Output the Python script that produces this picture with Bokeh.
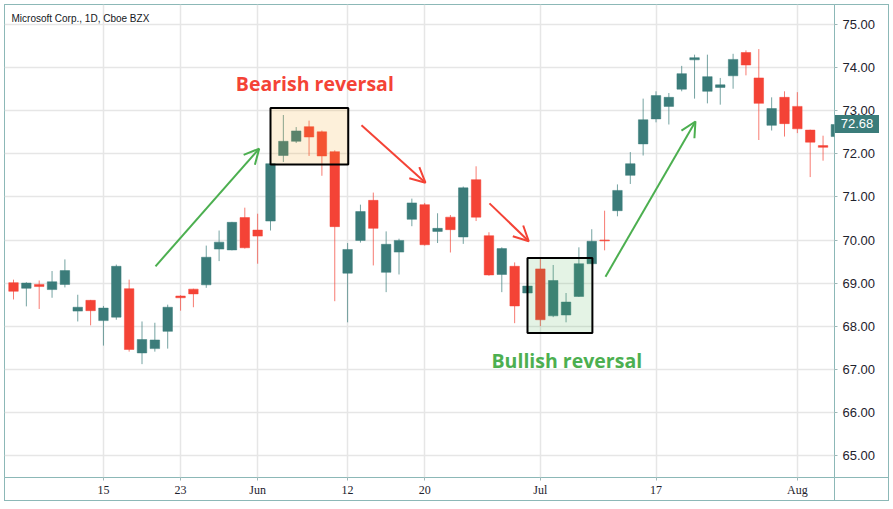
import pandas as pd
from bokeh.plotting import figure
from bokeh.models import (ColumnDataSource, Range1d, FixedTicker, PrintfTickFormatter,
                          BoxAnnotation, Arrow, OpenHead, Label, Div)
from bokeh.embed import file_html
from bokeh.resources import INLINE

# ---------------- data ----------------
opens = [69.01, 68.88, 68.97, 68.85, 68.97, 68.35, 68.60, 68.13, 68.21, 68.87,
         67.38, 67.48, 67.88, 68.70, 68.86, 68.96, 69.79, 69.77, 70.52, 70.23,
         70.44, 71.96, 72.29, 72.63, 72.51, 72.05, 69.23, 69.99, 70.92, 69.25,
         69.72, 70.48, 70.82, 70.20, 70.53, 70.07, 71.40, 70.10, 69.20, 69.39,
         68.77, 69.33, 68.24, 68.26, 68.69, 69.45, 70.00, 70.68, 71.50, 72.23,
         72.81, 73.10, 73.50, 74.18, 73.45, 73.54, 73.81, 74.35, 73.76, 72.66,
         73.31, 73.10, 72.55, 72.19, 72.40]
highs = [69.08, 69.02, 69.06, 69.28, 69.55, 68.73, 68.61, 68.47, 69.43, 69.08,
         68.11, 68.08, 68.50, 68.72, 68.87, 69.87, 70.22, 70.42, 70.75, 70.61,
         71.78, 72.90, 72.62, 72.77, 72.54, 72.08, 69.93, 70.82, 71.10, 70.20,
         70.03, 70.96, 70.86, 70.62, 70.58, 71.24, 71.71, 70.18, 69.83, 69.48,
         68.94, 69.56, 69.42, 68.77, 69.83, 70.25, 70.68, 71.29, 72.04, 73.28,
         73.45, 73.41, 74.04, 74.30, 74.30, 73.76, 74.32, 74.40, 74.43, 73.31,
         73.45, 73.43, 72.56, 72.42, 72.75]
lows = [68.62, 68.46, 68.40, 68.66, 68.90, 68.11, 68.02, 67.55, 68.15, 67.41,
        67.12, 67.41, 67.48, 68.36, 68.44, 68.89, 69.51, 69.76, 69.80, 69.45,
        70.22, 71.81, 72.25, 71.95, 71.49, 68.58, 68.09, 69.94, 69.41, 68.79,
        69.20, 70.32, 69.87, 69.93, 69.71, 69.91, 70.44, 69.17, 68.79, 68.07,
        68.76, 68.00, 68.21, 68.09, 68.68, 69.44, 69.76, 70.55, 71.30, 71.96,
        72.73, 72.68, 73.45, 73.28, 73.17, 73.14, 73.51, 73.82, 72.32, 72.54,
        72.40, 72.48, 71.46, 71.84, 72.30]
closes = [68.81, 69.00, 68.92, 69.03, 69.29, 68.44, 68.36, 68.42, 69.39, 67.46,
          67.69, 67.68, 68.44, 68.66, 68.75, 69.60, 69.95, 70.41, 69.82, 70.09,
          71.77, 72.29, 72.53, 72.39, 71.95, 70.31, 69.78, 70.66, 70.27, 69.90,
          69.99, 70.86, 69.89, 70.27, 70.24, 71.21, 70.53, 69.19, 69.80, 68.47,
          68.93, 68.15, 69.06, 68.56, 69.45, 69.97, 69.98, 71.15, 71.77, 72.79,
          73.35, 73.31, 73.86, 74.23, 73.79, 73.60, 74.19, 74.06, 73.17, 73.05,
          72.70, 72.58, 72.27, 72.15, 72.68]

holidays = ["2017-05-29", "2017-07-04"]
dates = [d for d in pd.bdate_range("2017-05-04", "2017-08-04")
         if d.strftime("%Y-%m-%d") not in holidays]

tick_dates = ["2017-05-15", "2017-05-23", "2017-06-01", "2017-06-12",
              "2017-06-20", "2017-07-03", "2017-07-17", "2017-08-01"]
tick_labels = ["15", "23", "Jun", "12", "20", "Jul", "17", "Aug"]
price_ticks = [65, 66, 67, 68, 69, 70, 71, 72, 73, 74, 75]
last_price = 72.68

# ---------------- styling ----------------
UP = "#3b7c7a"
DOWN = "#f44336"
GREEN = "#4caf50"
FRAME = "#8cb8b7"
TXT = "#1e222d"

idx = list(range(len(dates)))
date_str = [d.strftime("%Y-%m-%d") for d in dates]
tick_idx = [date_str.index(t) for t in tick_dates]

colors = [UP if c >= o else DOWN for o, c in zip(opens, closes)]
src = ColumnDataSource(dict(
    x=idx, open=opens, high=highs, low=lows, close=closes,
    top=[max(o, c) for o, c in zip(opens, closes)],
    bottom=[min(o, c) for o, c in zip(opens, closes)],
    color=colors,
))

px_per_bar = 12.85
frame_left, frame_right = 4, 834
x0 = -(13 - frame_left) / px_per_bar
x1 = x0 + (frame_right - frame_left) / px_per_bar
ppu = 43.1
y_top = 75 + (24 - 4) / ppu
y_bot = 75 - (477 - 24) / ppu
last_y = 24 + (75 - last_price) * ppu  # pixel row of the last price

g = f"linear-gradient({FRAME},{FRAME})"
p = figure(width=893, height=509, output_backend="svg", toolbar_location=None,
           x_range=Range1d(x0, x1), y_range=Range1d(y_bot, y_top),
           y_axis_location="right",
           min_border_left=4, min_border_top=4, min_border_right=59, min_border_bottom=32)
p.border_fill_color = None
p.background_fill_color = "white"
p.outline_line_color = FRAME
p.outline_line_width = 1
p.styles = {
    "background-color": "white",
    "background-image": ", ".join([g] * 6),
    "background-size": "885px 1px, 885px 1px, 1px 497px, 1px 497px, 1px 497px, 885px 1px",
    "background-position": "4px 4px, 4px 500px, 4px 4px, 888px 4px, 834px 4px, 4px 477px",
    "background-repeat": "no-repeat",
}

# grid
p.xgrid.ticker = FixedTicker(ticks=tick_idx)
p.ygrid.ticker = FixedTicker(ticks=price_ticks)
p.xgrid.grid_line_color = "#e6e6e6"
p.ygrid.grid_line_color = "#e6e6e6"
p.xgrid.grid_line_width = 1.5
p.ygrid.grid_line_width = 1.5

# axes
xa = p.xaxis[0]
xa.ticker = FixedTicker(ticks=tick_idx)
xa.major_label_overrides = {i: l for i, l in zip(tick_idx, tick_labels)}
ya = p.yaxis[0]
ya.ticker = FixedTicker(ticks=price_ticks)
ya.formatter = PrintfTickFormatter(format="%.2f")
for ax in (xa, ya):
    ax.axis_line_color = None
    ax.minor_tick_line_color = None
    ax.major_tick_line_color = "#9fb8b8"
    ax.major_tick_in = 0
    ax.major_tick_out = 3
    ax.major_label_text_color = TXT
xa.major_label_text_font = "Liberation Sans Narrow"
xa.major_label_text_font_size = "12px"
xa.major_label_standoff = 2
ya.major_label_text_font = "Liberation Sans"
ya.major_label_text_font_size = "13px"
ya.major_label_standoff = 5

# candles
p.segment(x0="x", y0="low", x1="x", y1="high", source=src, line_color="color",
          line_alpha=0.7, line_width=1)
p.vbar(x="x", top="top", bottom="bottom", width=0.74, source=src,
       fill_color="color", line_color="color", line_width=0.5)

# reversal boxes
p.add_layout(BoxAnnotation(left=20.0, right=26.05, bottom=71.75, top=73.06,
                           fill_color="#f5a623", fill_alpha=0.17,
                           line_color="black", line_width=2, line_alpha=1))
p.add_layout(BoxAnnotation(left=40.0, right=45.05, bottom=67.84, top=69.58,
                           fill_color=GREEN, fill_alpha=0.15,
                           line_color="black", line_width=2, line_alpha=1))

# arrows
for (xs, ys, xe, ye, c) in [(11.05, 69.39, 19.12, 72.12, GREEN),
                            (27.08, 72.66, 32.06, 71.33, DOWN),
                            (37.04, 70.85, 40.10, 69.97, DOWN),
                            (46.07, 69.15, 53.07, 72.75, GREEN)]:
    p.add_layout(Arrow(x_start=xs, y_start=ys, x_end=xe, y_end=ye,
                       line_color=c, line_width=2,
                       end=OpenHead(size=15, line_color=c, line_width=2)))

# texts
p.add_layout(Label(x=17.3, y=73.49 + 6.5 / ppu, text="Bearish reversal", text_color=DOWN,
                   text_font="Open Sans", text_font_style="bold", text_font_size="19.5px",
                   text_baseline="alphabetic"))
p.add_layout(Label(x=37.2, y=67.05 + 6.5 / ppu, text="Bullish reversal", text_color=GREEN,
                   text_font="Open Sans", text_font_style="bold", text_font_size="19.5px",
                   text_baseline="alphabetic"))
p.add_layout(Label(x=7, x_units="screen", y=75 + 6 / ppu, text="Microsoft Corp., 1D, Cboe BZX",
                   text_color="#131722", text_font="Liberation Sans",
                   text_font_size="10px", text_baseline="alphabetic"))

price_tag = Div(text=f"{last_price:.2f}", styles={
    "position": "absolute", "left": "835px", "top": f"{last_y - 9:.0f}px",
    "width": "44px", "height": "18px", "line-height": "18px",
    "background-color": UP, "color": "white", "text-align": "center",
    "font-family": "Liberation Sans", "font-size": "13px",
})
p.elements = [price_tag]

open("out.html", "w").write(file_html(p, INLINE))
